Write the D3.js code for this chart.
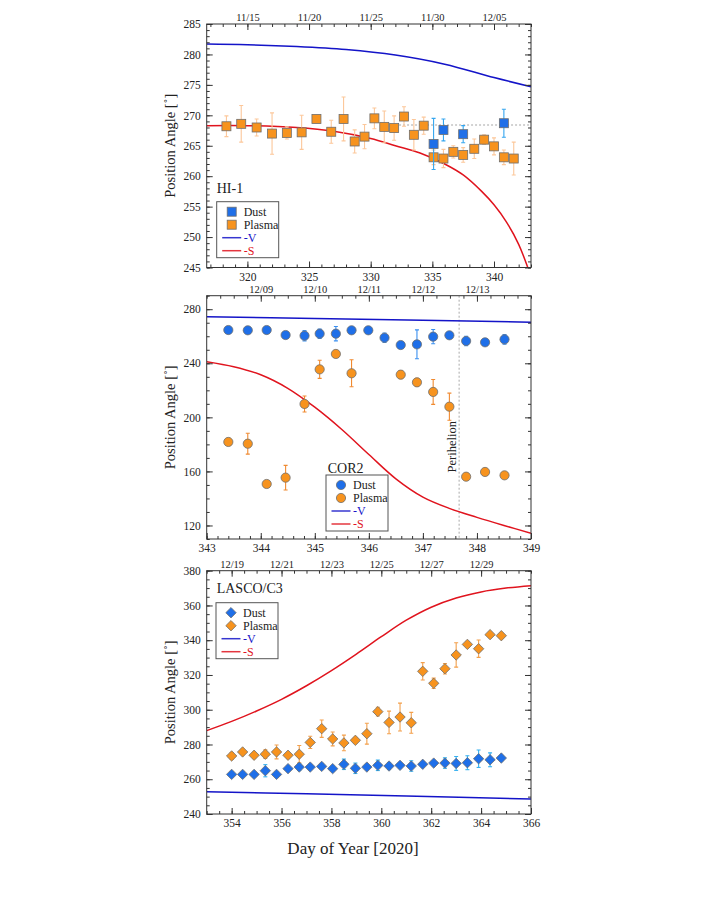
<!DOCTYPE html>
<html>
<head>
<meta charset="utf-8">
<script src="https://cdn.jsdelivr.net/npm/d3@7"></script>
<style>
  body { margin: 0; background: #fff; }
  text { font-family: "Liberation Serif", "Times New Roman", serif; fill: #222; }
</style>
</head>
<body>
<svg id="chart" width="706" height="913"></svg>
<script>
// ---------- data: HI-1 ----------
const hi1PlasmaDoy = [318.3, 319.5, 320.75, 322.0, 323.2, 324.4, 325.6, 326.8, 327.8, 328.7, 329.5, 330.3, 331.1, 331.9, 332.7, 333.5, 334.3, 335.1, 335.9, 336.7, 337.5, 338.4, 339.2, 340.0, 340.8, 341.6];
const hi1PlasmaPa  = [268.2, 268.6, 268.0, 267.0, 267.1, 267.2, 269.4, 267.3, 269.4, 265.7, 266.5, 269.5, 268.1, 267.9, 269.8, 266.8, 268.3, 263.1, 262.9, 264.0, 263.5, 264.5, 266.0, 264.9, 263.1, 262.9];
const hi1PlasmaErr = [1.7, 3.0, 1.4, 3.4, 1.0, 2.8, 0.6, 1.9, 3.6, 1.9, 2.0, 1.7, 2.6, 2.0, 1.6, 2.5, 1.4, 1.2, 1.5, 1.0, 1.2, 1.6, 0.8, 1.4, 1.2, 2.7];
const hi1DustDoy = [335.1, 335.9, 337.5, 340.8];
const hi1DustPa  = [265.3, 267.6, 266.9, 268.7];
const hi1DustErr = [4.2, 1.8, 1.4, 2.3];
const hi1VDoy = [316.7, 320, 324, 328, 332, 336, 340, 343];
const hi1VPa  = [281.7, 281.6, 281.3, 280.8, 279.9, 278.4, 276.2, 274.7];
const hi1SDoy = [316.7, 320, 324, 327, 330, 332, 334, 336, 337.5, 339, 340, 341, 342, 343];
const hi1SPa  = [268.3, 268.3, 268.0, 267.4, 266.2, 265.0, 263.8, 262.0, 260.2, 257.5, 255.3, 252.5, 248.8, 243.5];
const hi1RefLine = [332.3, 343, 268.4];
const hi1DateDoy = [320, 325, 330, 335, 340];
const hi1DateLabels = ['11/15', '11/20', '11/25', '11/30', '12/05'];

// ---------- data: COR2 ----------
const cor2DustDoy = [343.40, 343.76, 344.11, 344.46, 344.81, 345.09, 345.39, 345.68, 345.99, 346.29, 346.59, 346.89, 347.19, 347.49, 347.80, 348.15, 348.51];
const cor2DustPa  = [264.6, 264.4, 264.6, 260.9, 260.4, 261.9, 261.9, 264.4, 264.4, 258.9, 253.5, 254.0, 259.7, 260.7, 256.5, 255.5, 257.7];
const cor2DustErr = [2, 2, 2, 2, 3.8, 3.5, 5.3, 2, 2, 3.5, 2, 10.7, 5.3, 2, 3.5, 2, 3.5];
const cor2PlasmaDoy = [343.40, 343.76, 344.11, 344.46, 344.81, 345.09, 345.39, 345.68, 346.59, 346.89, 347.19, 347.49, 347.80, 348.15, 348.51];
const cor2PlasmaPa  = [181.8, 180.5, 150.7, 155.4, 209.9, 235.5, 246.9, 232.6, 231.6, 225.9, 218.8, 207.9, 156.1, 159.6, 157.1];
const cor2PlasmaErr = [2, 7.7, 2, 9.1, 5.9, 6.7, 2, 10, 3, 3, 9.2, 10, 2, 2, 2];
const cor2VDoy = [343, 345, 347, 349];
const cor2VPa  = [274.5, 273.2, 271.8, 270.4];
const cor2SDoy = [343.0, 343.5, 344.0, 344.5, 345.0, 345.5, 346.0, 346.5, 347.0, 347.5, 348.0, 348.5, 349.0];
const cor2SPa  = [241.2, 237.5, 231.5, 221.5, 207.5, 191.0, 172.5, 154.5, 141.0, 132.5, 126.0, 120.0, 114.3];
const perihelionDoy = 347.67;
const cor2DateDoy = [344, 345, 346, 347, 348];
const cor2DateLabels = ['12/09', '12/10', '12/11', '12/12', '12/13'];

// ---------- data: LASCO/C3 ----------
const c3Doy = [354.0, 354.44, 354.9, 355.35, 355.8, 356.26, 356.71, 357.15, 357.61, 358.05, 358.5, 358.96, 359.42, 359.86, 360.31, 360.75, 361.2, 361.66, 362.1, 362.55, 363.0, 363.45, 363.9, 364.36, 364.81];
const c3PlasmaPa  = [273.4, 275.7, 273.8, 274.4, 275.7, 273.8, 274.4, 281.2, 289.1, 283.2, 280.9, 282.4, 286.2, 298.9, 292.7, 295.8, 292.5, 322.1, 315.2, 323.6, 331.5, 337.6, 335.1, 343.2, 342.6];
const c3PlasmaErr = [2, 1.5, 1.5, 2.5, 4, 1.5, 5, 3.5, 5, 4, 4.5, 1.5, 6, 2.5, 6.5, 8, 6, 5, 3, 3, 7, 1.5, 5, 1.5, 1.5];
const c3DustPa  = [262.8, 262.8, 262.8, 264.9, 262.8, 266.1, 267.0, 267.0, 267.4, 266.1, 268.6, 266.3, 267.0, 268.0, 267.6, 268.0, 267.6, 268.6, 269.3, 269.3, 269.1, 269.5, 271.8, 271.2, 272.2];
const c3DustErr = [1.5, 1.5, 1.5, 3.5, 1.5, 1.5, 2, 1.5, 1.5, 1.5, 3, 3, 1.5, 3, 2, 1.5, 3, 1.5, 1.5, 3, 4, 4, 5, 4, 1.5];
const c3VDoy = [353, 357, 361, 366];
const c3VPa  = [252.8, 251.6, 250.3, 248.6];
const c3SDoy = [353, 354, 355, 356, 357, 358, 359, 360, 361, 362, 363, 364, 365, 366];
const c3SPa  = [288.0, 293.3, 299.3, 306.0, 313.8, 322.5, 332.0, 342.0, 351.5, 359.0, 364.3, 367.8, 370.0, 371.4];
const c3DateDoy = [354, 356, 358, 360, 362, 364];
const c3DateLabels = ['12/19', '12/21', '12/23', '12/25', '12/27', '12/29'];

const colors = {
  orange: '#f7931e',
  blue: '#1f6fe8',
  markerStroke: '#6e6e6e',
  vLine: '#1414c8',
  sLine: '#e0141e',
  axis: '#333'
};

const chart = {
  left: 206.7,
  right: 531,
  svg: d3.select('#chart')
};

function translate(x, y) {
  return `translate(${x}, ${y})`;
};

const zip = (xs, ys, es) => xs.map((x, i) => ({x: x, y: ys[i], e: es ? es[i] : 0}));
const range = (a, b, step) => d3.range(Math.round((b - a) / step) + 1).map(i => +(a + i * step).toFixed(4));

chart.marker = (g, shape, cx, cy, fill) => {
  if (shape === 'square') {
    g.append('rect').attr('x', cx - 4.5).attr('y', cy - 4.5).attr('width', 9).attr('height', 9)
      .attr('fill', fill).attr('stroke', colors.markerStroke).attr('stroke-width', 0.8);
  } else if (shape === 'circle') {
    g.append('circle').attr('cx', cx).attr('cy', cy).attr('r', 4.6)
      .attr('fill', fill).attr('stroke', colors.markerStroke).attr('stroke-width', 0.8);
  } else {
    g.append('path').attr('d', `M${cx},${cy - 5.2}L${cx + 5.2},${cy}L${cx},${cy + 5.2}L${cx - 5.2},${cy}Z`)
      .attr('fill', fill).attr('stroke', colors.markerStroke).attr('stroke-width', 0.8);
  }
};

chart.drawPanel = (p) => {
  const w = chart.right - chart.left;
  const h = p.height;
  const g = chart.svg.append('g').attr('transform', translate(chart.left, p.top));
  const x = d3.scaleLinear().domain(p.xDomain).range([0, w]);
  const y = d3.scaleLinear().domain(p.yDomain).range([h, 0]);

  const clipId = `clip-${p.name.replace('/', '')}`;
  g.append('clipPath').attr('id', clipId).append('rect').attr('width', w).attr('height', h);
  const plot = g.append('g').attr('clip-path', `url(#${clipId})`);

  // axes: minor ticks then major ticks, all pointing inward
  const addAxis = (axisFn, scale, values, size, fmt, tr, pad) => {
    const a = g.append('g').attr('transform', tr)
      .call(axisFn(scale).tickValues(values).tickSize(-size).tickPadding(pad || 4)
        .tickFormat(fmt || ''));
    a.select('.domain').remove();
    a.selectAll('line').attr('stroke', colors.axis);
    a.selectAll('text').attr('font-size', 11.5).attr('fill', '#222')
      .style('font-family', '"Liberation Serif", serif');
    return a;
  };
  addAxis(d3.axisBottom, x, p.xMinor, 3, null, translate(0, h));
  addAxis(d3.axisBottom, x, p.xMajor, 6, d3.format('d'), translate(0, h), 5);
  addAxis(d3.axisTop, x, p.topMinor, 3, null, translate(0, 0));
  const top = addAxis(d3.axisTop, x, p.dateDoy, 6, (d, i) => p.dateLabels[i], translate(0, 0), 3);
  top.selectAll('text').attr('font-size', 10.5);
  addAxis(d3.axisLeft, y, p.yMinor, 3, null, translate(0, 0));
  addAxis(d3.axisLeft, y, p.yMajor, 6, d3.format('d'), translate(0, 0), 6);
  addAxis(d3.axisRight, y, p.yMinor, 3, null, translate(w, 0));
  addAxis(d3.axisRight, y, p.yMajor, 6, null, translate(w, 0));

  // reference lines
  if (p.refLine) {
    plot.append('line')
      .attr('x1', x(p.refLine[0])).attr('x2', x(p.refLine[1]))
      .attr('y1', y(p.refLine[2])).attr('y2', y(p.refLine[2]))
      .attr('stroke', '#c4c4c4').attr('stroke-width', 1.5).attr('stroke-dasharray', '2,2');
  }
  if (p.vertLine) {
    plot.append('line')
      .attr('x1', x(p.vertLine)).attr('x2', x(p.vertLine))
      .attr('y1', 0).attr('y2', h)
      .attr('stroke', '#a8a8a8').attr('stroke-width', 1).attr('stroke-dasharray', '2,2');
    g.append('text')
      .attr('transform', `${translate(x(p.vertLine) - 7, p.vertLabelY)} rotate(-90)`)
      .attr('text-anchor', 'middle').attr('dy', '0.35em')
      .attr('font-size', 12.5).text('Perihelion');
  }

  // model curves
  const line = d3.line().x(d => x(d.x)).y(d => y(d.y)).curve(d3.curveCatmullRom.alpha(0.5));
  p.curves.forEach(c => {
    plot.append('path').datum(zip(c.x, c.y))
      .attr('d', line).attr('fill', 'none')
      .attr('stroke', c.color).attr('stroke-width', 1.5);
  });

  // data series
  p.series.forEach(s => {
    const pts = zip(s.x, s.y, s.e);
    const eg = plot.append('g').attr('stroke', s.errColor).attr('stroke-width', 1.1);
    pts.forEach(d => {
      const y0 = y(d.y - d.e), y1 = y(d.y + d.e), cx = x(d.x);
      eg.append('line').attr('x1', cx).attr('x2', cx).attr('y1', y0).attr('y2', y1);
      eg.append('line').attr('x1', cx - 2).attr('x2', cx + 2).attr('y1', y0).attr('y2', y0);
      eg.append('line').attr('x1', cx - 2).attr('x2', cx + 2).attr('y1', y1).attr('y2', y1);
    });
    const mg = plot.append('g');
    pts.forEach(d => chart.marker(mg, p.shape, x(d.x), y(d.y), s.color));
  });

  // frame
  g.append('rect').attr('width', w).attr('height', h)
    .attr('fill', 'none').attr('stroke', colors.axis).attr('stroke-width', 1);

  // instrument label
  g.append('text').attr('x', p.label.x).attr('y', p.label.y).attr('dy', '0.35em')
    .attr('font-size', 14).text(p.name);

  // legend
  const lg = g.append('g').attr('transform', translate(p.legend.x, p.legend.y));
  lg.append('rect').attr('width', 62).attr('height', 56)
    .attr('fill', '#fff').attr('stroke', '#555').attr('stroke-width', 1);
  const items = [
    {kind: 'marker', color: colors.blue, text: 'Dust'},
    {kind: 'marker', color: colors.orange, text: 'Plasma'},
    {kind: 'line', color: colors.vLine, text: '-V'},
    {kind: 'line', color: colors.sLine, text: '-S'}
  ];
  items.forEach((it, i) => {
    const ry = 10 + i * 13;
    if (it.kind === 'marker') {
      chart.marker(lg, p.shape, 15, ry, it.color);
    } else {
      lg.append('line').attr('x1', 5.5).attr('x2', 24.5).attr('y1', ry).attr('y2', ry)
        .attr('stroke', it.color).attr('stroke-width', 1.5).attr('opacity', 0.85);
    }
    lg.append('text').attr('x', 27).attr('y', ry).attr('dy', '0.35em')
      .attr('font-size', 12).style('fill', it.kind === 'line' ? it.color : '#222')
      .text(it.text);
  });

  // y label
  chart.svg.append('text')
    .attr('transform', `${translate(170, p.top + h / 2)} rotate(-90)`)
    .attr('text-anchor', 'middle').attr('dy', '0.35em')
    .attr('font-size', 14.5).text('Position Angle [˚]');
};

const panels = [
  {
    name: 'HI-1', top: 24, height: 243.5, shape: 'square',
    xDomain: [316.7, 343], yDomain: [245, 285],
    xMajor: range(320, 340, 5), xMinor: range(317, 343, 1), topMinor: range(317, 343, 1),
    yMajor: range(245, 285, 5), yMinor: range(245, 285, 1),
    dateDoy: hi1DateDoy, dateLabels: hi1DateLabels,
    refLine: hi1RefLine,
    curves: [{x: hi1VDoy, y: hi1VPa, color: colors.vLine}, {x: hi1SDoy, y: hi1SPa, color: colors.sLine}],
    series: [
      {x: hi1PlasmaDoy, y: hi1PlasmaPa, e: hi1PlasmaErr, color: colors.orange, errColor: '#fcc79a'},
      {x: hi1DustDoy, y: hi1DustPa, e: hi1DustErr, color: colors.blue, errColor: '#35a6ef'}
    ],
    label: {x: 10, y: 164}, legend: {x: 10, y: 177.7}
  },
  {
    name: 'COR2', top: 295.7, height: 243.3, shape: 'circle',
    xDomain: [343, 349], yDomain: [110, 290],
    xMajor: range(343, 349, 1), xMinor: range(343, 349, 0.2), topMinor: range(343, 349, 0.25),
    yMajor: range(120, 280, 40), yMinor: range(110, 290, 10),
    dateDoy: cor2DateDoy, dateLabels: cor2DateLabels,
    vertLine: perihelionDoy, vertLabelY: 151,
    curves: [{x: cor2VDoy, y: cor2VPa, color: colors.vLine}, {x: cor2SDoy, y: cor2SPa, color: colors.sLine}],
    series: [
      {x: cor2DustDoy, y: cor2DustPa, e: cor2DustErr, color: colors.blue, errColor: '#3a8ff0'},
      {x: cor2PlasmaDoy, y: cor2PlasmaPa, e: cor2PlasmaErr, color: colors.orange, errColor: '#f08a30'}
    ],
    label: {x: 121, y: 172.6}, legend: {x: 119.3, y: 179.3}
  },
  {
    name: 'LASCO/C3', top: 570.7, height: 243.3, shape: 'diamond',
    xDomain: [353, 366], yDomain: [240, 380],
    xMajor: range(354, 366, 2), xMinor: range(353, 366, 0.5), topMinor: range(353, 366, 0.5),
    yMajor: range(240, 380, 20), yMinor: range(240, 380, 5),
    dateDoy: c3DateDoy, dateLabels: c3DateLabels,
    curves: [{x: c3VDoy, y: c3VPa, color: colors.vLine}, {x: c3SDoy, y: c3SPa, color: colors.sLine}],
    series: [
      {x: c3Doy, y: c3PlasmaPa, e: c3PlasmaErr, color: colors.orange, errColor: '#f3a04c'},
      {x: c3Doy, y: c3DustPa, e: c3DustErr, color: colors.blue, errColor: '#35b0f0'}
    ],
    label: {x: 10, y: 17.6}, legend: {x: 9.3, y: 32}
  }
];

panels.forEach(p => chart.drawPanel(p));

chart.svg.append('text')
  .attr('x', 353).attr('y', 848).attr('dy', '0.35em').attr('text-anchor', 'middle')
  .attr('font-size', 17).text('Day of Year [2020]');
</script>
</body>
</html>
